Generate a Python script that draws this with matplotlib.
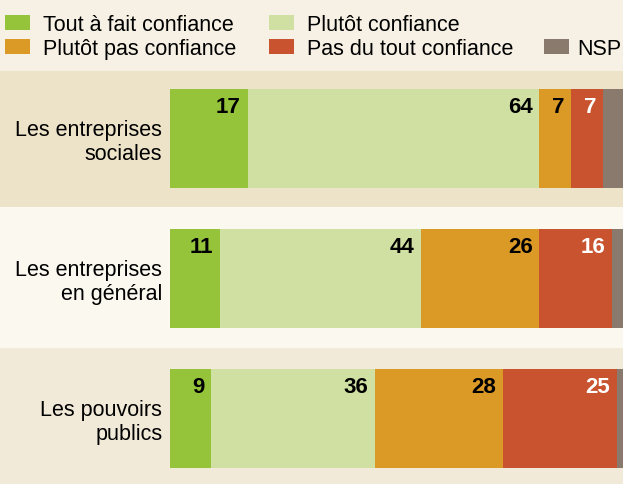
import matplotlib
matplotlib.use("Agg")
import matplotlib.pyplot as plt
from matplotlib.patches import Rectangle

FONT = ["Liberation Sans", "DejaVu Sans"]

categories = ["Les entreprises\nsociales", "Les entreprises\nen général", "Les pouvoirs\npublics"]
series_names = ["Tout à fait confiance", "Plutôt confiance", "Plutôt pas confiance",
                "Pas du tout confiance", "NSP"]
tout_a_fait = [17, 11, 9]
plutot = [64, 44, 36]
plutot_pas = [7, 26, 28]
pas_du_tout = [7, 16, 25]
nsp = [5, 3, 2]
series = [tout_a_fait, plutot, plutot_pas, pas_du_tout, nsp]
colors = ["#95c43a", "#cfe0a2", "#db9925", "#c8532e", "#8a7a6e"]
label_colors = ["black", "black", "black", "white", None]

W, H = 623, 485
fig = plt.figure(figsize=(W / 100, H / 100), dpi=100)
fig.patch.set_facecolor("#f6f1e4")


def fx(px):
    return px / W


def fy(py):
    return 1 - py / H


# background bands
bands = [(72, 208, "#ede3c8"), (208, 349, "#fbf8ef"), (349, 485, "#f2ead8")]
for top, bot, c in bands:
    fig.patches.append(Rectangle((0, fy(bot)), 1, (bot - top) / H, transform=fig.transFigure,
                                 facecolor=c, edgecolor="none", zorder=-5))

ax = fig.add_axes([fx(170), fy(489.5), 456 / W, 420 / H])
ax.set_zorder(1)
ax.set_facecolor("none")
ax.set_xlim(0, 100)
ax.set_ylim(2.5, -0.5)
ax.axis("off")

ypos = list(range(len(categories)))
left = [0] * len(categories)
for vals, c, lc in zip(series, colors, label_colors):
    ax.barh(ypos, vals, left=left, height=0.707, color=c, edgecolor="none")
    if lc is not None:
        for y, l, v in zip(ypos, left, vals):
            ax.text(l + v - 1.5, y - 0.19, str(v), ha="right", va="baseline",
                    fontsize=16, fontweight="bold", color=lc, family=FONT)
    left = [a + b for a, b in zip(left, vals)]

line_offsets = [-0.025, 0.146]
for y, cat in zip(ypos, categories):
    for off, line in zip(line_offsets, cat.split("\n")):
        ax.text(-1.7, y + off, line, ha="right", va="baseline", fontsize=15.5,
                color="black", family=FONT, clip_on=False)

# legend
leg = [(5, 16, 0), (269, 16, 1), (5, 40, 2), (269, 40, 3), (544, 40, 4)]
for x, y, i in leg:
    fig.patches.append(Rectangle((fx(x), fy(y + 15)), 25 / W, 15 / H, transform=fig.transFigure,
                                 facecolor=colors[i], edgecolor="none", zorder=2))
    if i == 4:
        fig.text(fx(621), fy(y + 15), series_names[i], ha="right", va="baseline",
                 fontsize=15.5, color="black", family=FONT)
    else:
        fig.text(fx(x + 38), fy(y + 15), series_names[i], ha="left", va="baseline",
                 fontsize=15.5, color="black", family=FONT)

fig.savefig("out.png", dpi=100, facecolor=fig.get_facecolor())
